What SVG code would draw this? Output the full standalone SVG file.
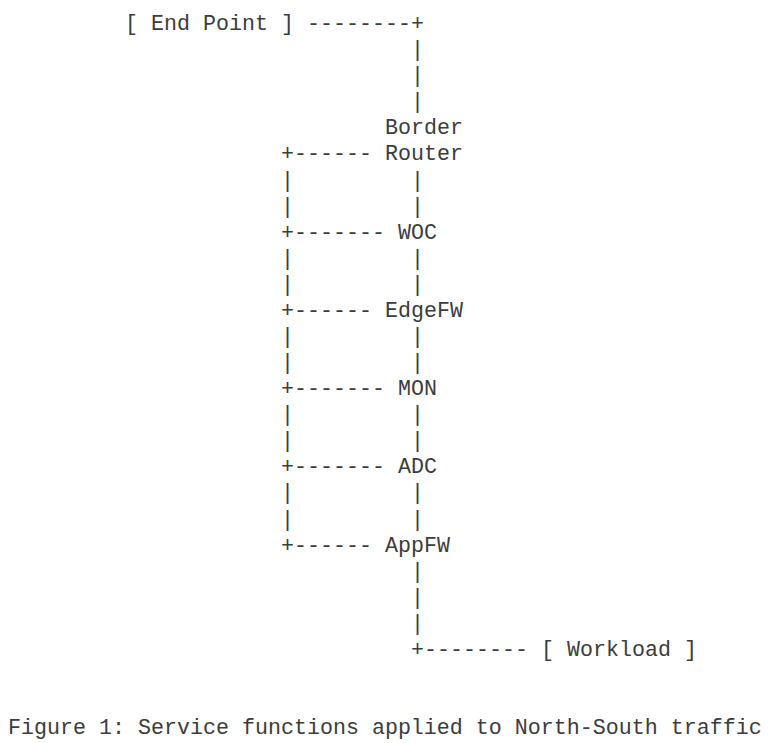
<svg xmlns="http://www.w3.org/2000/svg" width="773" height="743" viewBox="0 0 773 743">
<style>
text { font-family: "Liberation Mono", "Courier New", monospace; font-size: 21.67px; fill: #3c3c3c; white-space: pre; }
</style>
<rect width="773" height="743" fill="#ffffff"/>
<g id="connectors">
  <text x="307" y="30">--------+</text>
  <text x="411" y="56.1">|</text>
  <text x="411" y="82.2">|</text>
  <text x="411" y="108.2">|</text>
  <text x="281" y="160.4">+------</text>
  <text x="281" y="186.5">|</text><text x="411" y="186.5">|</text>
  <text x="281" y="212.6">|</text><text x="411" y="212.6">|</text>
  <text x="281" y="238.6">+-------</text>
  <text x="281" y="264.7">|</text><text x="411" y="264.7">|</text>
  <text x="281" y="290.8">|</text><text x="411" y="290.8">|</text>
  <text x="281" y="316.9">+------</text>
  <text x="281" y="343">|</text><text x="411" y="343">|</text>
  <text x="281" y="369">|</text><text x="411" y="369">|</text>
  <text x="281" y="395.1">+-------</text>
  <text x="281" y="421.2">|</text><text x="411" y="421.2">|</text>
  <text x="281" y="447.3">|</text><text x="411" y="447.3">|</text>
  <text x="281" y="473.4">+-------</text>
  <text x="281" y="499.4">|</text><text x="411" y="499.4">|</text>
  <text x="281" y="525.5">|</text><text x="411" y="525.5">|</text>
  <text x="281" y="551.6">+------</text>
  <text x="411" y="577.7">|</text>
  <text x="411" y="603.8">|</text>
  <text x="411" y="629.8">|</text>
  <text x="411" y="655.9">+--------</text>
</g>
<g id="end-point"><text x="125" y="30">[ End Point ]</text></g>
<g id="border-router"><text x="385" y="134.3">Border</text><text x="385" y="160.4">Router</text></g>
<g id="woc"><text x="398" y="238.6">WOC</text></g>
<g id="edgefw"><text x="385" y="316.9">EdgeFW</text></g>
<g id="mon"><text x="398" y="395.1">MON</text></g>
<g id="adc"><text x="398" y="473.4">ADC</text></g>
<g id="appfw"><text x="385" y="551.6">AppFW</text></g>
<g id="workload"><text x="541" y="655.9">[ Workload ]</text></g>
<g id="caption"><text x="8" y="734.2">Figure 1: Service functions applied to North-South traffic</text></g>
</svg>
